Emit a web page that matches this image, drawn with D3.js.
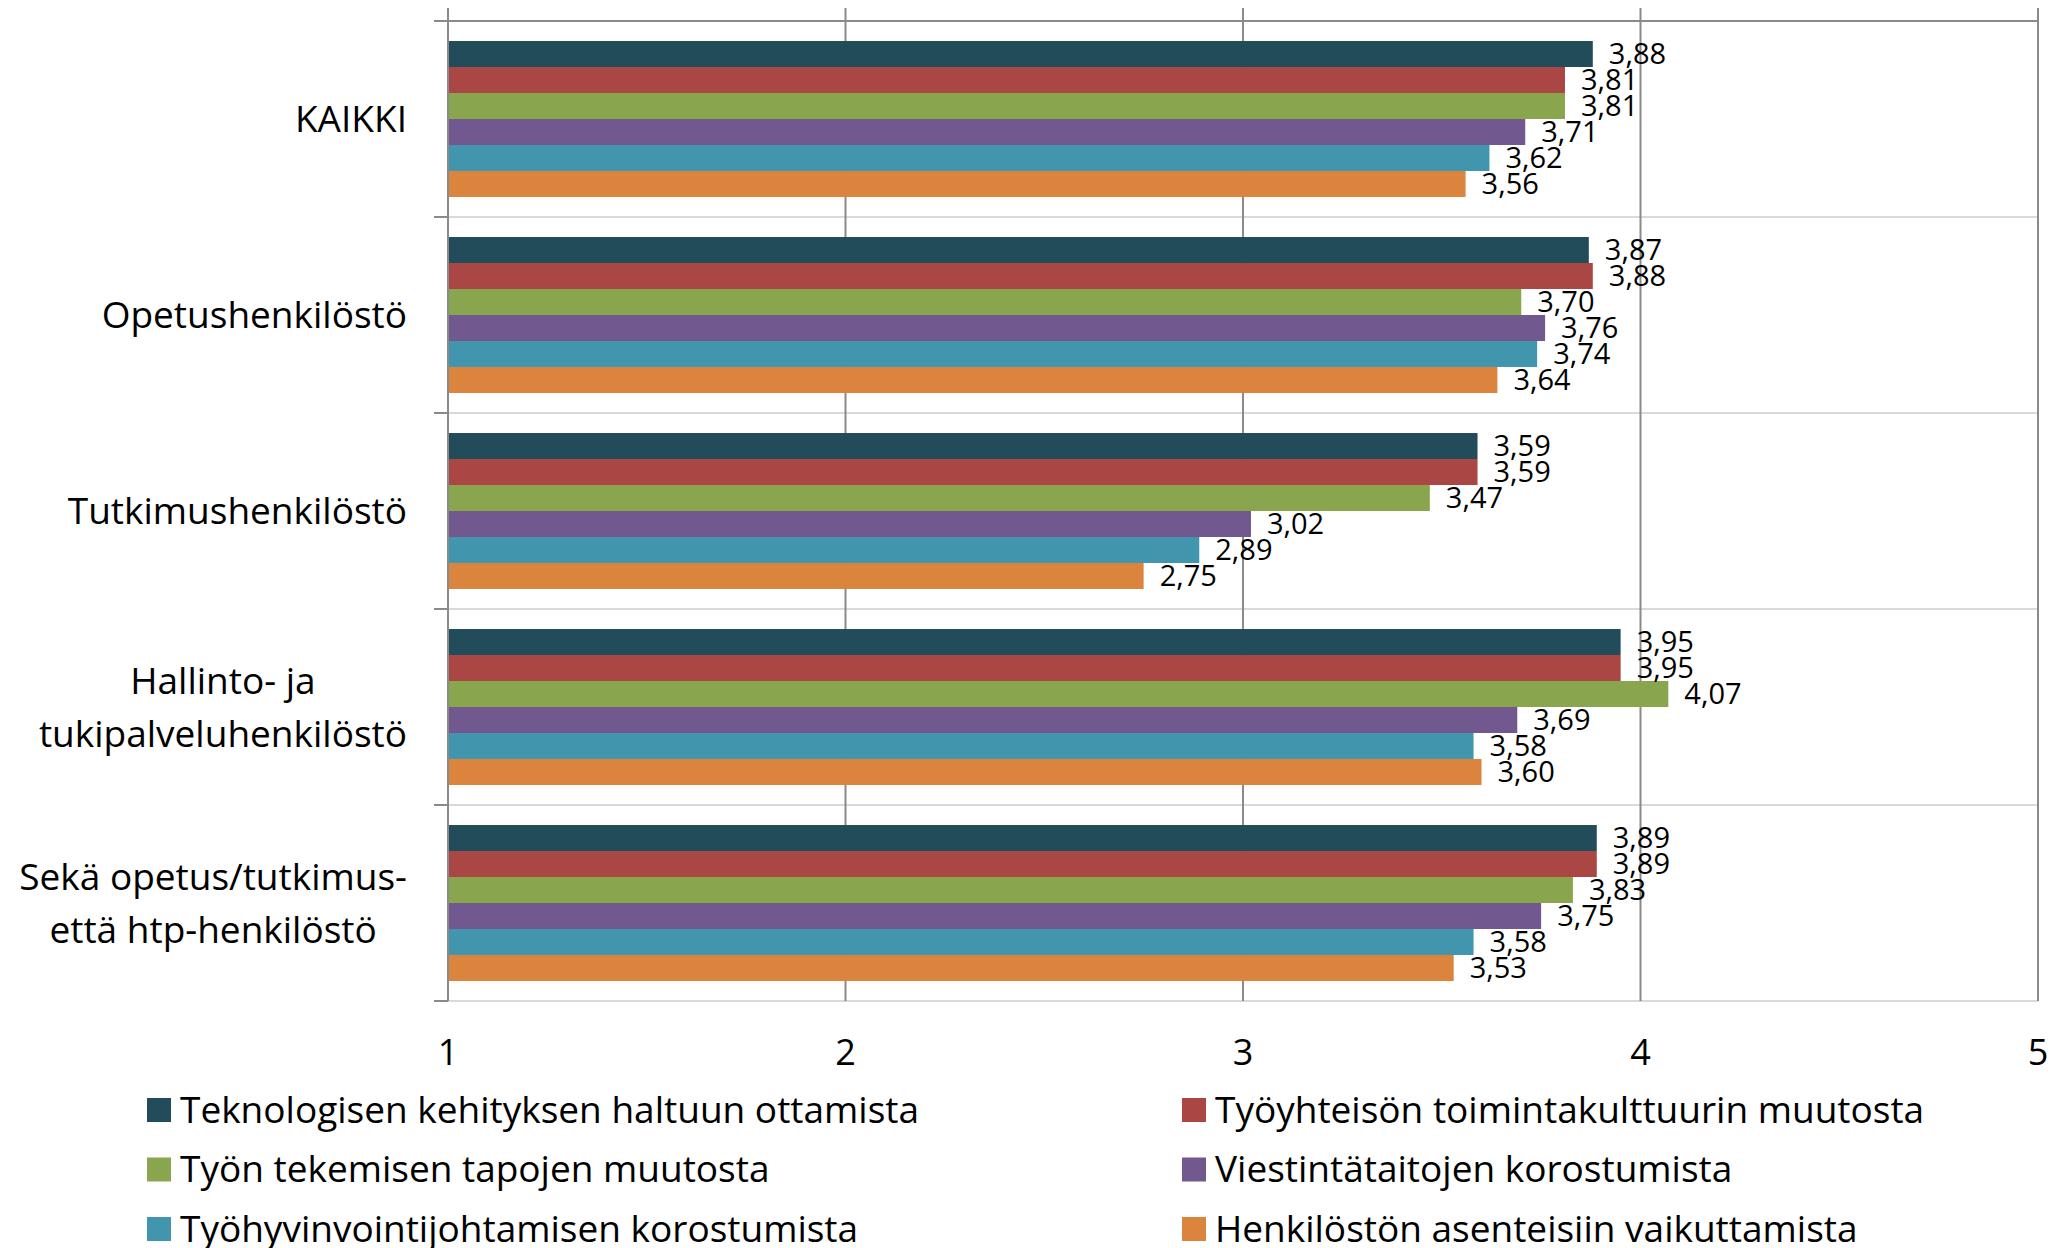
<!DOCTYPE html>
<html><head><meta charset="utf-8">
<script src="https://cdn.jsdelivr.net/npm/d3@7"></script>
<style>
html,body{margin:0;padding:0;background:#fff;}
text{font-family:"Open Sans",sans-serif;fill:#000;}
</style></head>
<body><svg id="c" width="2051" height="1248"></svg>
<script>
const categories = ["KAIKKI","Opetushenkilöstö","Tutkimushenkilöstö","Hallinto- ja tukipalveluhenkilöstö","Sekä opetus/tutkimus- että htp-henkilöstö"];
const categoryLines = [["KAIKKI"],["Opetushenkilöstö"],["Tutkimushenkilöstö"],["Hallinto- ja","tukipalveluhenkilöstö"],["Sekä opetus/tutkimus-","että htp-henkilöstö"]];
const seriesNames = ["Teknologisen kehityksen haltuun ottamista","Työyhteisön toimintakulttuurin muutosta","Työn tekemisen tapojen muutosta","Viestintätaitojen korostumista","Työhyvinvointijohtamisen korostumista","Henkilöstön asenteisiin vaikuttamista"];
const seriesColors = ["#234c5a","#aa4643","#89a54e","#71588f","#4196ae","#db843d"];
const teknologia = [3.88,3.87,3.59,3.95,3.89];
const toimintakulttuuri = [3.81,3.88,3.59,3.95,3.89];
const tyontekeminen = [3.81,3.70,3.47,4.07,3.83];
const viestinta = [3.71,3.76,3.02,3.69,3.75];
const tyohyvinvointi = [3.62,3.74,2.89,3.58,3.58];
const asenteet = [3.56,3.64,2.75,3.60,3.53];
const seriesValues = [teknologia,toimintakulttuuri,tyontekeminen,viestinta,tyohyvinvointi,asenteet];
const xTicks = [1,2,3,4,5];

const svg = d3.select("#c");
const x = d3.scaleLinear().domain([1,5]).range([448,2038]);
const y = d3.scaleBand().domain(categories).range([21,1001]);
const yInner = d3.scaleBand().domain(seriesNames).range([0,y.bandwidth()]).paddingInner(0).paddingOuter(0.77);
const fmt = v => d3.format(".2f")(v).replace(".",",");

// category separators (light)
svg.append("g").selectAll("line").data(d3.range(1,categories.length+1)).join("line")
  .attr("x1",448).attr("x2",2038)
  .attr("y1",d=>21+y.step()*d).attr("y2",d=>21+y.step()*d)
  .attr("stroke","#d9d9d9").attr("stroke-width",2);

// vertical gridlines
svg.append("g").selectAll("line").data(xTicks).join("line")
  .attr("x1",d=>x(d)).attr("x2",d=>x(d)).attr("y1",8).attr("y2",1001)
  .attr("stroke","#8a8a8a").attr("stroke-width",2);

// top line
svg.append("line").attr("x1",434).attr("x2",2038).attr("y1",21).attr("y2",21)
  .attr("stroke","#8a8a8a").attr("stroke-width",2);

// left ticks
svg.append("g").selectAll("line").data(d3.range(categories.length+1)).join("line")
  .attr("x1",434).attr("x2",448).attr("y1",d=>21+y.step()*d).attr("y2",d=>21+y.step()*d)
  .attr("stroke","#8a8a8a").attr("stroke-width",2);

// bars
const rows = [];
categories.forEach((c,ci)=>seriesNames.forEach((s,si)=>rows.push({c,s,si,v:seriesValues[si][ci]})));
svg.append("g").selectAll("rect").data(rows).join("rect")
  .attr("x",x(1)).attr("y",d=>y(d.c)+yInner(d.s))
  .attr("width",d=>x(d.v)-x(1)).attr("height",yInner.bandwidth())
  .attr("fill",d=>seriesColors[d.si]);

// value labels
svg.append("g").selectAll("text").data(rows).join("text")
  .attr("x",d=>x(d.v)+16).attr("y",d=>y(d.c)+yInner(d.s)+yInner.bandwidth()/2)
  .attr("dy","0.36em").attr("font-size",29).text(d=>fmt(d.v));

// left axis line
svg.append("line").attr("x1",448).attr("x2",448).attr("y1",8).attr("y2",1001)
  .attr("stroke","#8a8a8a").attr("stroke-width",2);

// x tick labels
svg.append("g").selectAll("text").data(xTicks).join("text")
  .attr("x",d=>x(d)).attr("y",1065).attr("text-anchor","middle").attr("font-size",36)
  .text(d=>d);

// category labels
const lineH = 53;
categoryLines.forEach((lines,ci)=>{
  const cy = y(categories[ci]) + y.bandwidth()/2;
  const g = svg.append("g");
  const ts = lines.map((l,li)=>g.append("text").attr("font-size",37)
     .attr("y", cy + (li-(lines.length-1)/2)*lineH).attr("dy","0.36em").text(l));
  const maxW = d3.max(ts, t=>t.node().getComputedTextLength());
  const right = 407;
  if (lines.length===1) ts[0].attr("x",right).attr("text-anchor","end");
  else ts.forEach(t=>t.attr("x",right-maxW/2).attr("text-anchor","middle"));
});

// legend
const legX = [147,1182], legY = [1110,1169.5,1229];
const leg = svg.append("g").selectAll("g").data(seriesNames).join("g")
  .attr("transform",(d,i)=>`translate(${legX[i%2]},${legY[Math.floor(i/2)]})`);
leg.append("rect").attr("x",0).attr("y",-12).attr("width",24).attr("height",24)
  .attr("fill",(d,i)=>seriesColors[i]);
leg.append("text").attr("x",33).attr("dy","0.34em").attr("font-size",37).text(d=>d);
</script></body></html>
